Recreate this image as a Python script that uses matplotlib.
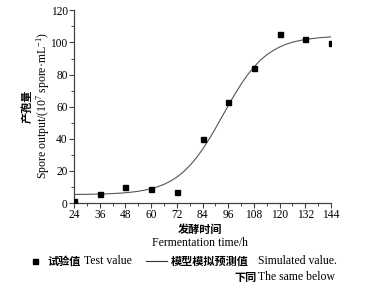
import matplotlib
matplotlib.use("Agg")
import matplotlib.pyplot as plt
from matplotlib.lines import Line2D
from matplotlib.ticker import MultipleLocator

plt.rcParams["mathtext.fontset"] = "custom"
plt.rcParams["mathtext.rm"] = "Liberation Serif"
plt.rcParams["mathtext.it"] = "Liberation Serif:italic"
plt.rcParams["mathtext.bf"] = "Liberation Serif:bold"

# Measured data (Test value)
test_time = [24, 36, 48, 60, 72, 84, 96, 108, 120, 132, 144]
test_value = [1.4, 5.4, 10.0, 8.9, 6.7, 39.9, 62.7, 84.3, 105.5, 102.0, 99.9]

# Simulated (model) curve
sim_time = [24, 27, 30, 33, 36, 39, 42, 45, 48, 51, 54, 57, 60, 63, 66, 69, 72,
            75, 78, 81, 84, 87, 90, 93, 96, 99, 102, 105, 108, 111, 114, 117,
            120, 123, 126, 129, 132, 135, 138, 141, 144]
sim_value = [5.3, 5.35, 5.4, 5.5, 5.6, 5.7, 5.9, 6.1, 6.4, 6.8, 7.3, 8.0, 8.9,
             10.1, 11.6, 13.6, 16.1, 19.3, 23.2, 27.9, 33.4, 39.6, 46.4, 53.5,
             60.6, 67.6, 74.0, 79.8, 84.7, 89.0, 92.3, 95.0, 97.2, 98.9, 100.2,
             101.1, 101.9, 102.4, 102.9, 103.2, 103.5]

x_ticks = [24, 36, 48, 60, 72, 84, 96, 108, 120, 132, 144]
y_ticks = [0, 20, 40, 60, 80, 100, 120]

W, H = 370, 295
SERIF = "Liberation Serif"
CJK = "Noto Sans CJK SC"

fig = plt.figure(figsize=(W / 100, H / 100), dpi=100)
ax = fig.add_axes([74 / W, 1 - 203 / H, (331 - 74) / W, (203 - 10.4) / H])

ax.plot(sim_time, sim_value, color="#555555", lw=0.8, zorder=2)
ax.plot(test_time, test_value, ls="none", marker="s", ms=3.6, color="black",
        zorder=3)

ax.set_xlim(24, 144)
ax.set_ylim(0, 120)
ax.set_xticks(x_ticks)
ax.set_yticks(y_ticks)
ax.xaxis.set_minor_locator(MultipleLocator(6))
ax.yaxis.set_minor_locator(MultipleLocator(10))
for s in ["top", "right"]:
    ax.spines[s].set_visible(False)
for s in ["left", "bottom"]:
    ax.spines[s].set_color("#444444")
    ax.spines[s].set_linewidth(0.9)
ax.tick_params(which="major", direction="out", length=3.5, width=0.8,
               color="#444444", labelsize=8.3, pad=1)
ax.tick_params(which="minor", direction="out", length=2, width=0.7,
               color="#444444")
for lab in ax.get_xticklabels() + ax.get_yticklabels():
    lab.set_fontfamily(SERIF)

def ft(x, y, s, fam, size, **kw):
    fig.text(x / W, 1 - y / H, s, family=fam, fontsize=size, **kw)

# y label (two lines)
ft(27, 106, "产孢量", CJK, 8, rotation=90, ha="center", va="center",
   weight="bold")
ft(43, 106, "Spore output/(10$^{7}$ spore·mL$^{-1}$)", SERIF, 8.5,
   rotation=90, ha="center", va="center")

# x label (two lines)
ft(200, 229, "发酵时间", CJK, 8, ha="center", va="center", weight="bold")
ft(200, 243, "Fermentation time/h", SERIF, 8.5, ha="center", va="center")

# legend (manual)
fig.add_artist(Line2D([35 / W], [1 - 261 / H], marker="s", ms=3.6,
                      color="black", ls="none", transform=fig.transFigure))
ft(47, 261, "试验值", CJK, 8, ha="left", va="center", weight="bold")
ft(84, 261, "Test value", SERIF, 8.5, ha="left", va="center")
fig.add_artist(Line2D([146 / W, 167 / W], [1 - 261 / H, 1 - 261 / H],
                      color="#333333", lw=0.8, transform=fig.transFigure))
ft(171, 261, "模型模拟预测值", CJK, 8, ha="left", va="center", weight="bold")
ft(258, 261, "Simulated value.", SERIF, 8.5, ha="left", va="center")
ft(234, 277, "下同", CJK, 8, ha="left", va="center", weight="bold")
ft(258, 277, "The same below", SERIF, 8.5, ha="left", va="center")

fig.savefig("out.png", dpi=100)
